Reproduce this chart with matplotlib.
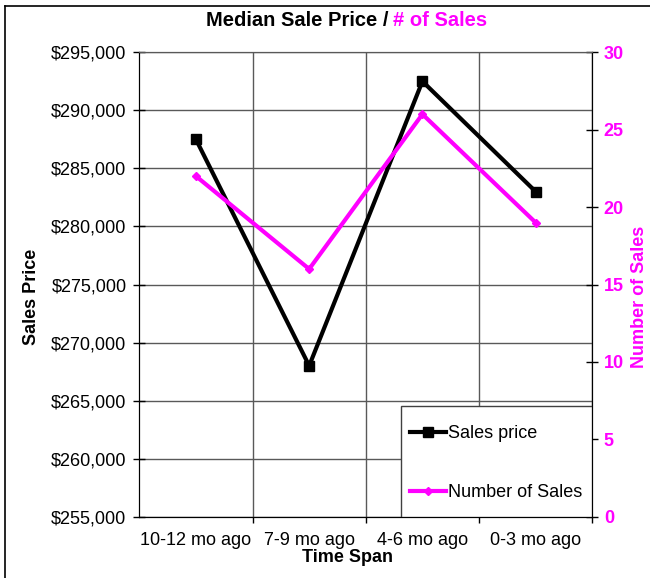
import numpy as np
import matplotlib.pyplot as plt
from matplotlib.lines import Line2D
from matplotlib.patches import Rectangle
from matplotlib.ticker import FuncFormatter, MultipleLocator, FixedLocator

plt.rcParams['font.family'] = ['Liberation Sans', 'DejaVu Sans']

# данные
periods = ['10-12 mo ago', '7-9 mo ago', '4-6 mo ago', '0-3 mo ago']
sales_price = [287500, 268000, 292500, 283000]
num_sales = [22, 16, 26, 19]

PINK = '#FF00FF'
GRID = '#595959'
FS = 13

fig = plt.figure(figsize=(6.5, 5.78), dpi=100)
ax = fig.add_axes([139.3 / 650, 1 - 516.7 / 578, (592.3 - 139.3) / 650, (516.7 - 52.3) / 578])
ax2 = ax.twinx()

x = np.arange(len(periods))
l1, = ax.plot(x, sales_price, color='black', lw=3, marker='s', ms=7.5,
              label='Sales price', zorder=4)
l2, = ax2.plot(x, num_sales, color=PINK, lw=3, marker='D', ms=4.5,
               label='Number of Sales', zorder=4)

# левая ось
ax.set_xlim(-0.5, len(periods) - 0.5)
ax.set_ylim(255000, 295000)
ax.yaxis.set_major_locator(MultipleLocator(5000))
ax.yaxis.set_major_formatter(FuncFormatter(lambda v, p: f'${v:,.0f}'))
ax.tick_params(axis='y', direction='inout', length=8.5, width=1, labelsize=FS, pad=5)
ax.grid(axis='y', color=GRID, lw=1)
ax.set_axisbelow(True)

# категории: штрихи между, подписи по центру
ax.xaxis.set_major_locator(FixedLocator([0.5, 1.5, 2.5, 3.5]))
ax.xaxis.set_major_formatter(FuncFormatter(lambda v, p: ''))
ax.set_xticks(x, periods, minor=True)
ax.tick_params(axis='x', which='major', direction='out', length=4, width=1)
ax.tick_params(axis='x', which='minor', length=0, labelsize=FS, pad=11)
ax.grid(axis='x', which='major', color=GRID, lw=1)

# правая ось
ax2.set_ylim(0, 30)
ax2.yaxis.set_major_locator(MultipleLocator(5))
ax2.tick_params(axis='y', direction='inout', length=8.5, width=1, labelsize=FS,
                labelcolor=PINK, pad=4)
for t in ax2.get_yticklabels():
    t.set_fontweight('bold')

for a in (ax, ax2):
    a.spines['top'].set_color(GRID)
    a.spines['left'].set_color('black')
    a.spines['right'].set_color('black')
    a.spines['bottom'].set_color('black')

# подписи осей
fig.text(32 / 650, 1 - 297 / 578, 'Sales Price', rotation=90, ha='center', va='center',
         fontsize=FS, fontweight='bold')
fig.text(640 / 650, 1 - 297 / 578, 'Number of Sales', rotation=90, ha='center', va='center',
         fontsize=FS, fontweight='bold', color=PINK)
fig.text(347 / 650, 1 - 558 / 578, 'Time Span', ha='center', va='center',
         fontsize=FS, fontweight='bold')

# легенда: рамка отдельно, чтобы задать её размер
lx0 = (401 - 139.3) / 453
lh = (516.7 - 406) / 464.4
ax2.add_patch(Rectangle((lx0, 0), 1 - lx0, lh, transform=ax2.transAxes,
                        facecolor='white', edgecolor='#404040', lw=1, zorder=5))
leg = ax2.legend(handles=[l1, l2], loc='center left', bbox_to_anchor=(lx0, -0.004, 1 - lx0, lh),
                 borderaxespad=0, fontsize=FS, frameon=False, labelspacing=2.3,
                 handlelength=2.0, handletextpad=0.1, borderpad=0.5)
leg.set_zorder(6)

# заголовок из двух частей
fig.text(389 / 650, 1 - 20 / 578, 'Median Sale Price /', ha='right', va='center',
         fontsize=14.5, fontweight='bold', color='black')
fig.text(393 / 650, 1 - 20 / 578, '# of Sales', ha='left', va='center',
         fontsize=14.5, fontweight='bold', color=PINK)

# рамка скриншота
fig.add_artist(Line2D([5 / 650, 1], [1 - 6 / 578, 1 - 6 / 578], color='black', lw=1.2))
fig.add_artist(Line2D([5 / 650, 5 / 650], [0, 1 - 6 / 578], color='black', lw=1.2))

fig.savefig('out.png', dpi=100)
